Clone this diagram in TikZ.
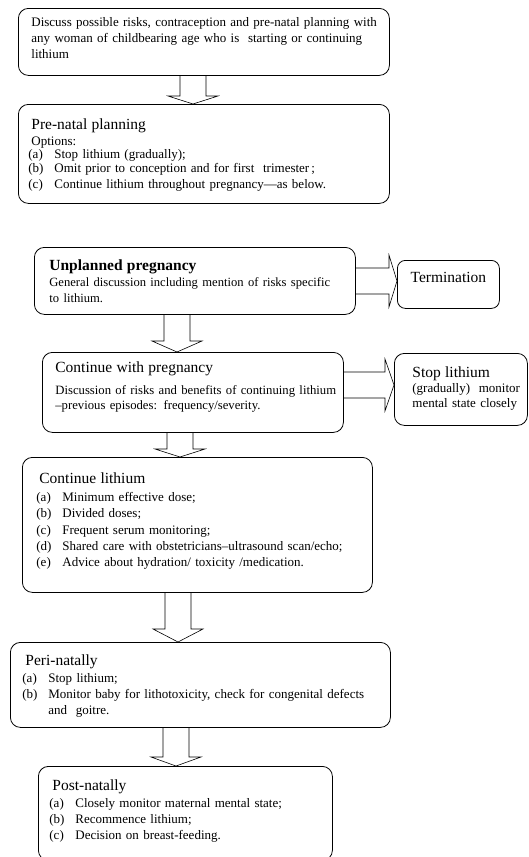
\documentclass[tikz,border=0pt]{standalone}
\usepackage{fontspec}
\setmainfont{Liberation Serif}
\usetikzlibrary{calc}
\newcommand{\bodyfont}{\fontsize{13}{16}\selectfont}
\newcommand{\headfont}{\fontsize{15.5}{16}\selectfont}
\newcommand{\itm}[1]{\makebox[26pt][l]{#1}}
\newcommand{\hd}{\hspace*{3pt}}
% hollow block arrows from one box to the next
\newcommand{\blockdown}[4]{%
  \draw[blockarrow] let \p1=(#1.south), \p2=(#2.north) in
    (#3-13,\y1) -- (#3-13,\y2+#4) -- (#3-25,\y2+#4) -- (#3,\y2)
    -- (#3+25,\y2+#4) -- (#3+13,\y2+#4) -- (#3+13,\y1);}
\newcommand{\blockright}[4]{%
  \draw[blockarrow] let \p1=(#1.east), \p2=(#2.west) in
    (\x1,#3+13) -- (\x2-#4,#3+13) -- (\x2-#4,#3+26) -- (\x2,#3)
    -- (\x2-#4,#3-26) -- (\x2-#4,#3-13) -- (\x1,#3-13);}
\begin{document}
\begin{tikzpicture}[x=1pt,y=1pt,
  panel/.style={draw,line width=0.8pt,rounded corners=10pt,anchor=north west,
    align=left,inner ysep=0pt,font=\bodyfont},
  blockarrow/.style={draw,line width=0.6pt,line join=miter}]
  \useasboundingbox (0,0) rectangle (528,-857);
  \node[panel,text width=345pt,inner xsep=13pt,text height=18pt,text depth=49pt] (discuss) at (18,-8)
    {\fontsize{13}{16.5}\selectfont
     \mbox{Discuss possible risks, contraception and pre-natal planning with}\\
     any woman of childbearing age who is \ starting or continuing\\
     lithium};
  \node[panel,text width=351pt,inner xsep=10pt,text height=25pt,text depth=74pt] (prenatal) at (18,-104)
    {\fontsize{13}{13.5}\selectfont
     \hd{\headfont Pre-natal planning}\\[2.5pt]
     \hd Options:\\
     \itm{(a)}Stop lithium (gradually);\\
     \itm{(b)}Omit prior to conception and for first \ trimester\,;\\
     \itm{(c)}Continue lithium throughout pregnancy---as below.};
  \node[panel,text width=291pt,inner xsep=15pt,text height=23pt,text depth=44pt] (unplanned) at (34,-247)
    {\fontsize{12.6}{13.5}\selectfont
     {\headfont\bfseries Unplanned pregnancy}\\[2.5pt]
     General discussion including mention of risks specific\\
     to lithium.};
  \node[panel,align=center,text width=102pt,inner xsep=0pt,text height=22pt,text depth=26pt,
    rounded corners=8pt] (termination) at (397,-260) {\headfont Termination};
  \node[panel,text width=293pt,inner xsep=4pt,text height=20pt,text depth=60pt] (continuepreg) at (42,-352)
    {\fontsize{12.7}{15}\selectfont\leftskip=9pt
     {\headfont Continue with pregnancy}\\[7pt]
     \mbox{Discussion of risks and benefits of continuing lithium}\\
     --previous episodes: frequency/severity.\par};
  \node[panel,text width=125pt,inner xsep=4pt,text height=24pt,text depth=48pt] (stoplith) at (394,-353)
    {\fontsize{13}{15}\selectfont\leftskip=14pt
     {\headfont Stop lithium}\\
     (gradually) \ monitor\\
     mental state closely\par};
  \node[panel,text width=322pt,inner xsep=14pt,text height=26pt,text depth=109pt] (contlith) at (22,-457)
    {\fontsize{13}{16.2}\selectfont
     \hd{\headfont Continue lithium}\\[2pt]
     \itm{(a)}Minimum effective dose;\\
     \itm{(b)}Divided doses;\\
     \itm{(c)}Frequent serum monitoring;\\
     \itm{(d)}Shared care with obstetricians--ultrasound scan/echo;\\
     \itm{(e)}Advice about hydration/ toxicity /medication.};
  \node[panel,text width=356pt,inner xsep=12pt,text height=23pt,text depth=62pt] (perinatal) at (10,-642)
    {\fontsize{13}{15.7}\selectfont
     \hd{\headfont Peri-natally}\\[1.5pt]
     \itm{(a)}Stop lithium;\\
     \itm{(b)}Monitor baby for lithotoxicity, check for congenital defects\\
     \itm{}and \ goitre.};
  \node[panel,text width=272pt,inner xsep=11pt,text height=24pt,text depth=70pt] (postnatal) at (38,-766)
    {\fontsize{13}{16.5}\selectfont
     \hd{\headfont Post-natally}\\[0.5pt]
     \itm{(a)}Closely monitor maternal mental state;\\
     \itm{(b)}Recommence lithium;\\
     \itm{(c)}Decision on breast-feeding.};
  \blockdown{discuss}{prenatal}{193}{8}
  \blockdown{unplanned}{continuepreg}{177}{11}
  \blockdown{continuepreg}{contlith}{180}{8}
  \blockdown{contlith}{perinatal}{178}{13}
  \blockdown{perinatal}{postnatal}{176}{9}
  \blockright{unplanned}{termination}{-281}{8}
  \blockright{continuepreg}{stoplith}{-385}{9}
\end{tikzpicture}
\end{document}
